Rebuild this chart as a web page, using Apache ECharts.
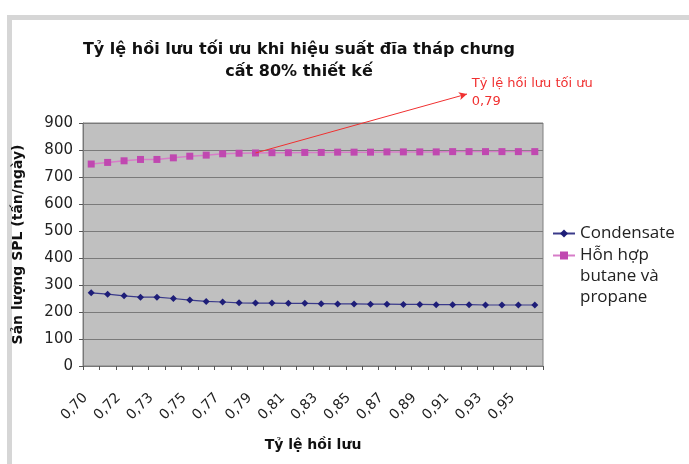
<!DOCTYPE html>
<html>
<head>
    <meta charset="utf-8">
    <title>Tỷ lệ hồi lưu tối ưu</title>
    <style>
        html, body { margin: 0; padding: 0; background: #fff; }
        #frame { position: absolute; left: 7px; top: 15px; width: 700px; height: 470px;
                 border: 5px solid #d6d6d6; box-sizing: border-box; }
        #main { position: absolute; left: 0; top: 0; width: 689px; height: 464px; }
    </style>
</head>
<body>
    <div id="frame"></div>
    <div id="main"></div>
    <script src="https://cdn.jsdelivr.net/npm/echarts@6/dist/echarts.min.js"></script>
    <script type="text/javascript">
    // tỷ lệ hồi lưu (nhãn trục x)
    var xLabels = ['0,70','0,71','0,72','0,72','0,73','0,74','0,75','0,76','0,77','0,78',
                   '0,79','0,80','0,81','0,82','0,83','0,84','0,85','0,86','0,87','0,88',
                   '0,89','0,90','0,91','0,92','0,93','0,94','0,95','0,96'];
    // sản lượng (tấn/ngày)
    var condensate = [271,266,260,255,255,250,244,239,237,234,233,233,232,232,231,
                      230,230,229,229,228,228,227,227,227,226,226,226,226];
    var butanePropane = [748,754,760,765,765,771,777,781,786,788,789,790,790,791,791,
                         792,792,792,793,793,793,793,794,794,794,794,794,794];
    var yTicks = [0, 900, 100]; // min, max, interval
    var optimum = '0,79';
    var optIdx = xLabels.indexOf(optimum);
    var nameCond = 'Condensate';
    var nameMix = 'Hỗn hợp\nbutane và\npropane';

    var FONT = "'DejaVu Sans', Verdana, sans-serif";
    var LEGEND_FONT = "'Open Sans', 'Noto Sans', sans-serif";

    var myChart = echarts.init(document.getElementById('main'));
    myChart.setOption({
        animation: false,
        textStyle: { fontFamily: FONT },
        title: {
            text: 'Tỷ lệ hồi lưu tối ưu khi hiệu suất đĩa tháp chưng\ncất 80% thiết kế',
            left: 294,
            top: 34,
            textAlign: 'center',
            textStyle: { fontFamily: FONT, fontSize: 16, fontWeight: 'bold', color: '#111', lineHeight: 22 }
        },
        legend: [
            {
                orient: 'vertical', left: 552, top: 223, padding: 0,
                itemWidth: 22, itemHeight: 10,
                textStyle: { fontFamily: LEGEND_FONT, fontSize: 17, color: '#222', lineHeight: 21 },
                data: [nameCond]
            },
            {
                // hai dòng trống phía trước để biểu tượng nằm ngang dòng đầu
                orient: 'vertical', left: 552, top: 203, padding: 0,
                itemWidth: 22, itemHeight: 10,
                textStyle: { fontFamily: LEGEND_FONT, fontSize: 17, color: '#222', lineHeight: 21 },
                formatter: function (name) { return '\n\n' + name; },
                data: [nameMix]
            }
        ],
        grid: {
            left: 83, right: 146, top: 123, bottom: 98,
            show: true, backgroundColor: '#c0c0c0', borderColor: '#808080', borderWidth: 1
        },
        xAxis: {
            type: 'category',
            data: xLabels,
            name: 'Tỷ lệ hồi lưu',
            nameLocation: 'middle',
            nameGap: 72,
            nameTextStyle: { fontFamily: FONT, fontSize: 14, fontWeight: 'bold', color: '#111' },
            axisLine: { lineStyle: { color: '#777' } },
            axisTick: { show: true, interval: 0, length: 4, lineStyle: { color: '#555' } },
            axisLabel: { interval: 1, rotate: 45, margin: 24, fontSize: 14, color: '#222',
                         padding: [0, 8, 5, 0] }
        },
        yAxis: {
            type: 'value',
            min: yTicks[0], max: yTicks[1], interval: yTicks[2],
            name: 'Sản lượng SPL (tấn/ngày)',
            nameLocation: 'middle',
            nameGap: 58,
            nameTextStyle: { fontFamily: FONT, fontSize: 14, fontWeight: 'bold', color: '#111' },
            axisLine: { show: true, lineStyle: { color: '#777' } },
            axisTick: { show: true, length: 4, lineStyle: { color: '#555' } },
            axisLabel: { fontSize: 15, color: '#222', margin: 10 },
            splitLine: { lineStyle: { color: '#7a7a7a', width: 1 } }
        },
        series: [
            {
                name: nameCond,
                type: 'line',
                data: condensate,
                symbol: 'diamond',
                symbolSize: 7,
                itemStyle: { color: '#1e1e78' },
                lineStyle: { color: '#3a3a8a', width: 1.2 }
            },
            {
                name: nameMix,
                type: 'line',
                data: butanePropane,
                symbol: 'rect',
                symbolSize: 7,
                itemStyle: { color: '#c048b0' },
                lineStyle: { color: '#d77cc8', width: 1.5 },
                markLine: {
                    silent: true,
                    symbol: ['none', 'arrow'],
                    symbolSize: [6, 8],
                    lineStyle: { color: '#f03030', width: 1, type: 'solid' },
                    label: {
                        show: true,
                        position: 'end',
                        distance: 5,
                        align: 'left',
                        verticalAlign: 'middle',
                        color: '#f03030',
                        fontSize: 13,
                        lineHeight: 18,
                        formatter: 'Tỷ lệ hồi lưu tối ưu\n' + optimum
                    },
                    data: [[
                        { coord: [optIdx, butanePropane[optIdx]] },
                        { x: 467, y: 94 }
                    ]]
                }
            }
        ]
    });
    </script>
</body>
</html>
